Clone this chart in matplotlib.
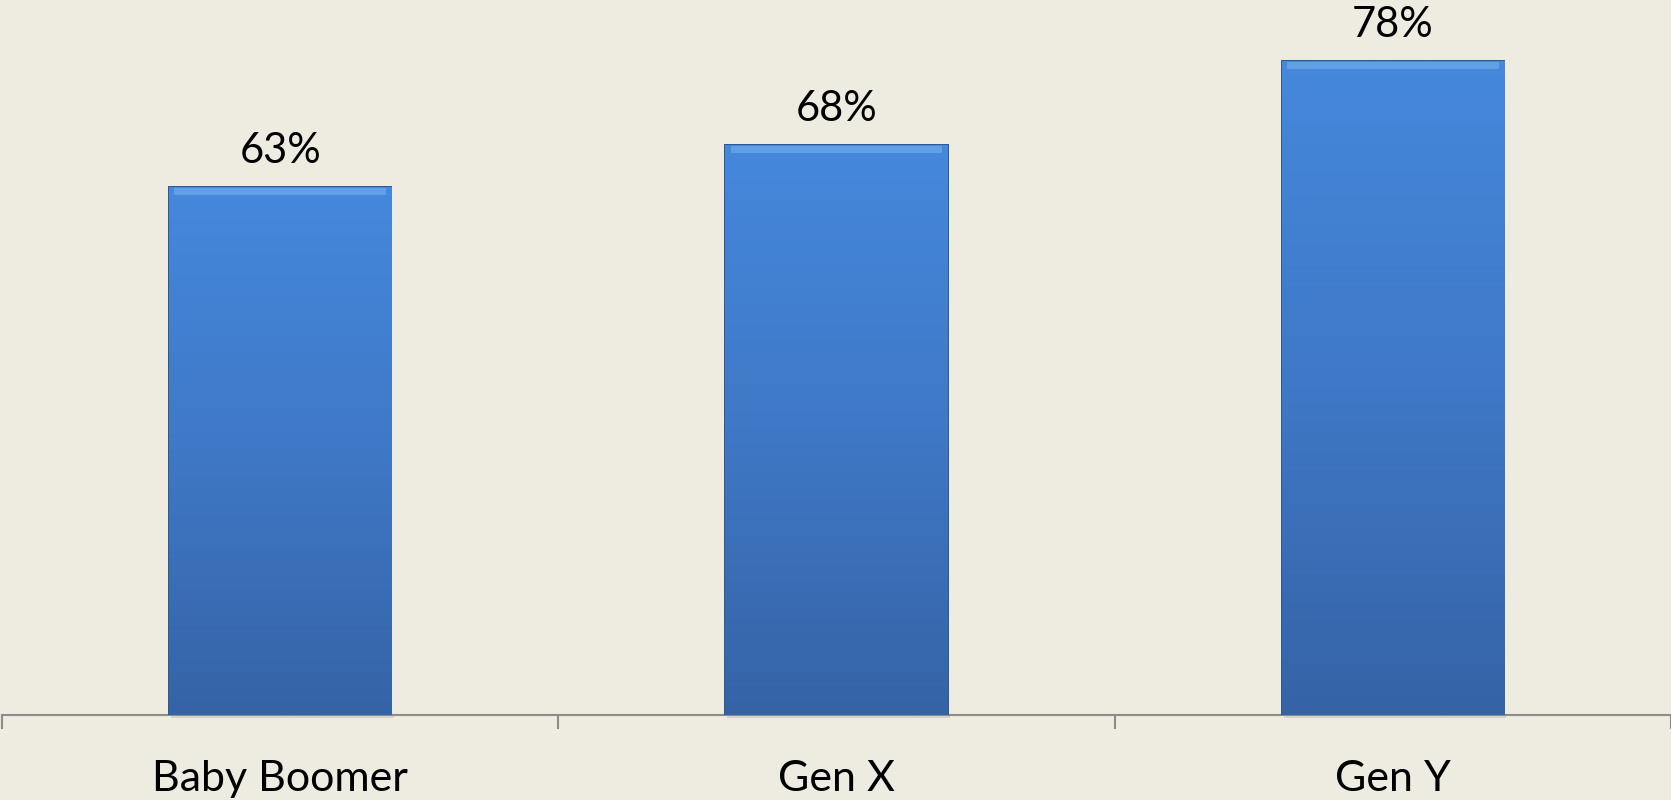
import matplotlib.pyplot as plt
import numpy as np
from matplotlib.colors import LinearSegmentedColormap

generations = ['Baby Boomer', 'Gen X', 'Gen Y']
percent = [63, 68, 78]

bg = '#EEEBE0'
plt.rcParams['font.family'] = ['Lato', 'DejaVu Sans']

fig = plt.figure(figsize=(16.71, 8.0), dpi=100, facecolor=bg)
ax = fig.add_axes([0.0012, 0.106, 0.9988, 0.894])
ax.set_facecolor(bg)

x = np.arange(len(generations))
bars = ax.bar(x, percent, width=0.4, color='#3f7acb', edgecolor='#2a568f',
              linewidth=1.4, zorder=3)

# vertical gradient inside each bar
grad_cmap = LinearSegmentedColormap.from_list('g', ['#3563a6', '#3f78c6', '#4588dc'])
grad = np.linspace(0, 1, 256).reshape(-1, 1)
for b in bars:
    x0, w, h = b.get_x(), b.get_width(), b.get_height()
    im = ax.imshow(grad, cmap=grad_cmap, origin='lower', aspect='auto',
                   extent=[x0, x0 + w, 0, h], zorder=3.5)
    im.set_clip_path(b)
    # light bevel strip on top
    ax.fill_between([x0 + 0.01, x0 + w - 0.01], h - 0.9, h - 0.1,
                    color='#62a0e6', zorder=3.6, lw=0)
    # faint shadow under the bar
    ax.fill_between([x0 + 0.004, x0 + w + 0.004], -0.35, 0, color='#d6d3c9',
                    zorder=2, lw=0, clip_on=False)
    ax.text(x0 + w / 2, h + 2.0, f'{h:.0f}%', ha='center', va='bottom',
            fontsize=30, color='black')

ax.set_xlim(-0.5, 2.5)
ax.set_ylim(0, 85.3)
ax.set_yticks([])
for s in ['left', 'right', 'top']:
    ax.spines[s].set_visible(False)
ax.spines['bottom'].set_color('#8c8c8c')
ax.spines['bottom'].set_linewidth(1.5)

ax.set_xticks(x)
ax.set_xticklabels(generations, fontsize=31)
ax.tick_params(axis='x', which='major', length=0, pad=32)
ax.set_xticks([-0.5, 0.5, 1.5, 2.5], minor=True)
ax.tick_params(axis='x', which='minor', length=10, width=1.5, color='#8c8c8c')

fig.savefig('out.png', dpi=100, facecolor=bg)
